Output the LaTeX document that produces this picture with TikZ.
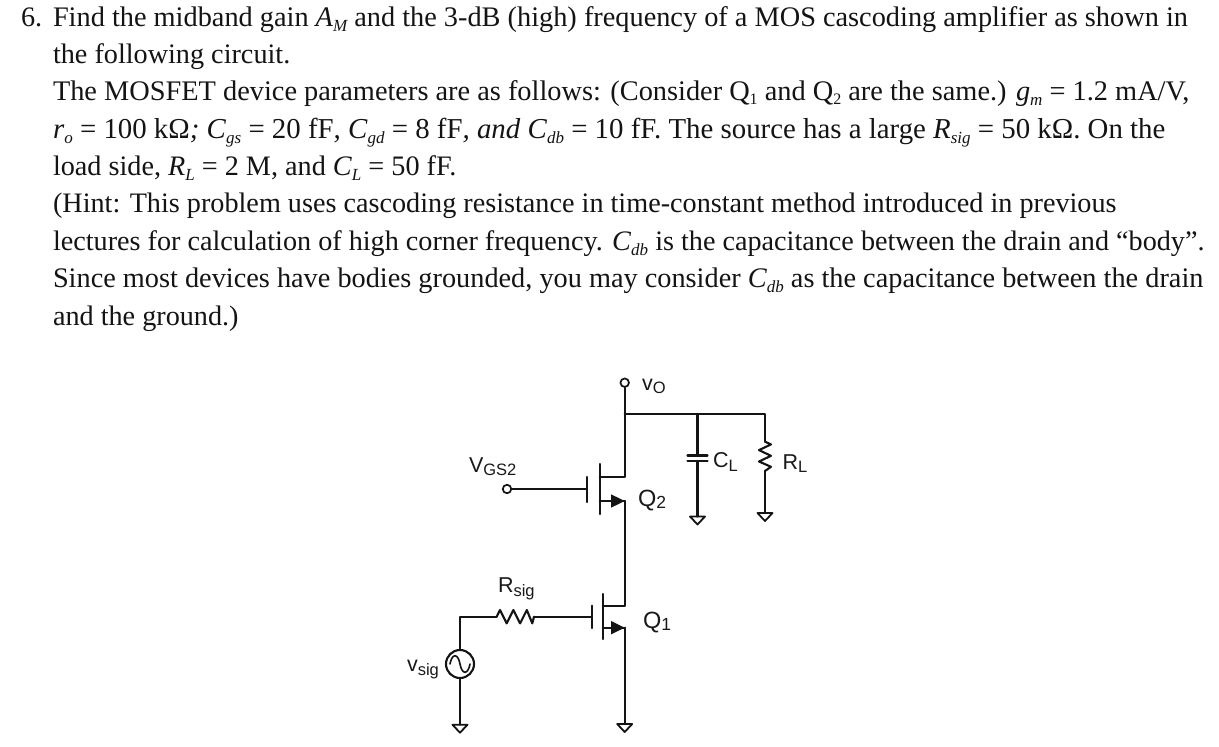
\documentclass[tikz,border=0pt]{standalone}
\usepackage{fontspec}
\setmainfont{Liberation Serif}
\newfontfamily\ckfont{Liberation Sans}
\newcommand{\tsub}[1]{\raisebox{-0.15em}{\fontsize{16}{16}\selectfont #1}}
\newcommand{\isub}[1]{\raisebox{-0.2em}{\fontsize{17}{17}\selectfont\itshape #1}}
\newcommand{\clab}[2]{{\fontsize{21.5}{21.5}\ckfont #1\raisebox{-3.5pt}{\fontsize{16.5}{16.5}\selectfont #2}}}
\newcommand{\qlab}[2]{{\fontsize{23.5}{23.5}\ckfont #1\raisebox{-2pt}{\fontsize{17.5}{17.5}\selectfont #2}}}
\tikzset{
  x=1pt,y=-1pt,
  txt/.style={anchor=base west,inner sep=0pt,outer sep=0pt,font=\fontsize{28.2}{28.2}\selectfont,text=black!92},
  cklab/.style={anchor=base west,inner sep=0pt,outer sep=0pt,text=black!90},
  wire/.style={draw=black!92,line width=2.1pt,line cap=round,line join=round},
  term/.style={circle,draw=black!92,line width=1.7pt,fill=white,inner sep=0pt,minimum size=8.5pt},
  src/.style={circle,draw=black!92,line width=2.1pt,fill=white,inner sep=0pt,minimum size=28pt},
}
\newcommand{\gnd}[1]{\draw[wire,line width=1.8pt] (#1) ++(-7.5,0) -- ++(15,0) -- ++(-7.5,8) -- cycle;}
\newcommand{\mosfet}[8]{%
  \draw[wire] (#1,#2) -- (#1,#3);
  \draw[wire] (#4,#5) -- (#4,#6);
  \draw[wire] (#4,#7) -- (624.7,#7);
  \draw[wire] (#4,#8) -- (624.7,#8);
  \fill[black!92] (624.7,#8) -- (611,#8-6.7) -- (611,#8+6.7) -- cycle;
}
\begin{document}
\begin{tikzpicture}
\useasboundingbox (0,0) rectangle (1219,747);
\fill[white] (0,0) rectangle (1219,747);
% text
\node[txt] (n6) at (21,26) {6.};
\node[txt,font=\fontsize{28.32}{28.32}\selectfont] (l1) at (53,26) {Find the midband gain \textit{A}\isub{M} and the 3-dB (high) frequency of a MOS cascoding amplifier as shown in};
\node[txt] (l2) at (53,63) {the following circuit.};
\node[txt,font=\fontsize{28.35}{28.35}\selectfont] (l3) at (53,100) {The MOSFET device parameters are as follows: (Consider Q\tsub{1} and Q\tsub{2} are the same.) \textit{g}\isub{m} = 1.2 mA/V,};
\node[txt,font=\fontsize{28.85}{28.85}\selectfont] (l4) at (53,138) {\textit{r}\isub{o} = 100 kΩ\textit{; C}\isub{gs} = 20 fF\textit{, C}\isub{gd} = 8 fF\textit{, and C}\isub{db} = 10 fF. The source has a large \textit{R}\isub{sig} = 50 kΩ. On the};
\node[txt] (l5) at (53,175) {load side, \textit{R}\isub{L} = 2 M, and \textit{C}\isub{L} = 50 fF.};
\node[txt] (l6) at (53,212) {(Hint: This problem uses cascoding resistance in time-constant method introduced in previous};
\node[txt,font=\fontsize{28.18}{28.18}\selectfont] (l7) at (53,250) {lectures for calculation of high corner frequency. \textit{C}\isub{db} is the capacitance between the drain and “body”.};
\node[txt,font=\fontsize{28.3}{28.3}\selectfont] (l8) at (53,287) {Since most devices have bodies grounded, you may consider \textit{C}\isub{db} as the capacitance between the drain};
\node[txt] (l9) at (53,325) {and the ground.)};
% coordinates
\coordinate (j) at (624.7,414);
\coordinate (jc) at (697.5,414);
\coordinate (jr) at (765,414);
\coordinate (d2) at (624.7,476.7);
\coordinate (s2) at (624.7,501);
\coordinate (d1) at (624.7,605.7);
\coordinate (s1) at (624.7,627.7);
\coordinate (gq2) at (587,489);
\coordinate (gq1) at (591.7,616.7);
\coordinate (c1) at (697.5,455.5);
\coordinate (c2) at (697.5,461);
\coordinate (gc) at (697.5,516.5);
\coordinate (rt) at (765,441.7);
\coordinate (rb) at (765,471);
\coordinate (gr) at (765,513);
\coordinate (gs1) at (624.7,724);
\coordinate (gv) at (460,724.7);
\coordinate (corner) at (460,616.7);
\coordinate (rsl) at (496.7,616.7);
\coordinate (rsr) at (534,616.7);
% terminals and source
\node[term] (vo) at (624.7,382.7) {};
\node[term] (vg) at (507,489) {};
\node[src] (vs) at (460,664) {};
% wires
\draw[wire] (vo) -- (j) -- (d2);
\draw[wire] (j) -- (jc) -- (jr) -- (rt);
\draw[wire] (jc) -- (c1);
\draw[wire] (c2) -- (gc);
\draw[wire] (rb) -- (gr);
\draw[wire] (c1) ++(-10,0) -- ++(20,0);
\draw[wire] (c2) ++(-10,0) -- ++(20,0);
\draw[wire] (rt) -- ++(6,2.7) -- ++(-12,5.7) -- ++(12,5.7) -- ++(-12,5.7) -- ++(12,5.3) -- (rb);
\draw[wire] (vg) -- (gq2);
\draw[wire] (s2) -- (d1);
\draw[wire] (s1) -- (gs1);
\draw[wire] (vs) -- (gv);
\draw[wire] (vs) -- (corner) -- (rsl);
\draw[wire] (rsl) -- ++(3.3,-6.7) -- ++(6.7,13.4) -- ++(6.7,-13.4) -- ++(6.7,13.4) -- ++(6.7,-13.4) -- ++(5.5,13.4) -- (rsr);
\draw[wire] (rsr) -- (gq1);
% transistors
\mosfet{587}{477}{502}{599.7}{464}{514}{476.7}{501}
\mosfet{591.7}{605.7}{628}{602.7}{594}{639}{605.7}{627.7}
% sine
\draw[wire,line width=1.6pt] (450,664) .. controls (452,653) and (458,653) .. (460,664) .. controls (462,675) and (468,675) .. (470,664);
% grounds
\gnd{gc}
\gnd{gr}
\gnd{gs1}
\gnd{gv}
% labels
\node[cklab] (lvo) at (642,390) {\clab{v}{O}};
\node[cklab] (lcl) at (713,467.7) {\clab{C}{L}};
\node[cklab] (lrl) at (782.7,469) {\clab{R}{L}};
\node[cklab] (lq2) at (638,506.7) {\qlab{Q}{2}};
\node[cklab] (lq1) at (643,628) {\qlab{Q}{1}};
\node[cklab] (lvg) at (469,472) {\clab{V}{GS2}};
\node[cklab] (lrs) at (498,592.7) {\clab{R}{sig}};
\node[cklab] (lvs) at (407,671.7) {\clab{v}{sig}};
\end{tikzpicture}
\end{document}
